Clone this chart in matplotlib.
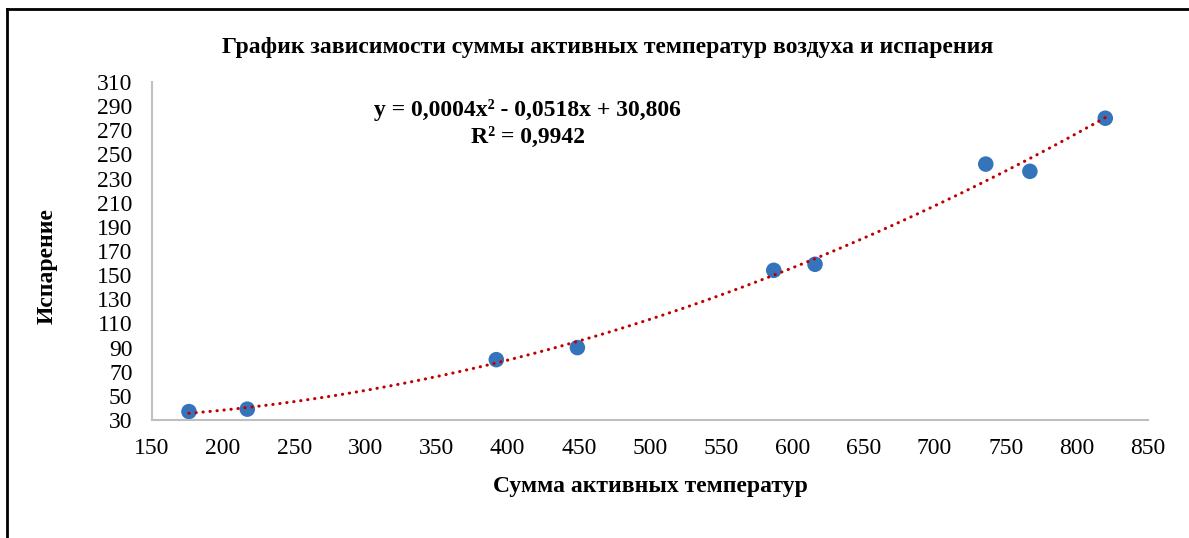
import numpy as np
import matplotlib
matplotlib.use("Agg")
import matplotlib.pyplot as plt
from matplotlib.lines import Line2D

plt.rcParams['font.family'] = ['Liberation Serif', 'DejaVu Serif']

# данные
summa_temp = [176, 217, 392, 449, 587, 616, 736, 767, 820]
isparenie = [37, 39, 80, 90, 154, 159, 242, 236, 280]

x_ticks = list(range(150, 851, 50))
y_ticks = list(range(30, 311, 20))

titulo = "График зависимости суммы активных температур воздуха и испарения"
eq_text = "y = 0,0004x² - 0,0518x + 30,806"
r2_text = "R² = 0,9942"
x_label = "Сумма активных температур"
y_label = "Испарение"

fig = plt.figure(figsize=(11.89, 5.38), dpi=100)
ax = fig.add_axes([0.1278, 0.2193, 0.8377, 0.6283])

# полиномиальный тренд 2-й степени
coef = np.polyfit(summa_temp, isparenie, 2)
xs = np.linspace(min(summa_temp), max(summa_temp), 300)
ax.plot(xs, np.polyval(coef, xs), color='#C00000', linewidth=2.2,
        linestyle=(0, (0.1, 2.2)), dash_capstyle='round', zorder=3)

ax.scatter(summa_temp, isparenie, s=125, color='#3573BA', edgecolors='none', zorder=2)

ax.set_xlim(150, 850)
ax.set_ylim(30, 310)
ax.set_xticks(x_ticks)
ax.set_yticks(y_ticks)
ax.tick_params(axis='both', length=0, labelsize=17)
ax.tick_params(axis='x', pad=13)
ax.tick_params(axis='y', pad=14)

for s in ['top', 'right']:
    ax.spines[s].set_visible(False)
for s in ['left', 'bottom']:
    ax.spines[s].set_color('#BFBFBF')
    ax.spines[s].set_linewidth(1.5)

ax.set_xlabel(x_label, fontsize=17, fontweight='bold', labelpad=12)
ax.set_ylabel(y_label, fontsize=17, fontweight='bold')
ax.yaxis.set_label_coords(-0.095, 0.456)

fig.text(0.511, 0.912, titulo, ha='center', va='center', fontsize=17, fontweight='bold')
fig.text(0.444, 0.795, eq_text, ha='center', va='center', fontsize=17, fontweight='bold')
fig.text(0.444, 0.745, r2_text, ha='center', va='center', fontsize=17, fontweight='bold')

# рамка диаграммы
fig.add_artist(Line2D([0.006, 0.006], [0.0, 0.983], transform=fig.transFigure, color='black', linewidth=2))
fig.add_artist(Line2D([0.006, 1.0], [0.983, 0.983], transform=fig.transFigure, color='black', linewidth=2))

fig.savefig("out.png", dpi=100)
